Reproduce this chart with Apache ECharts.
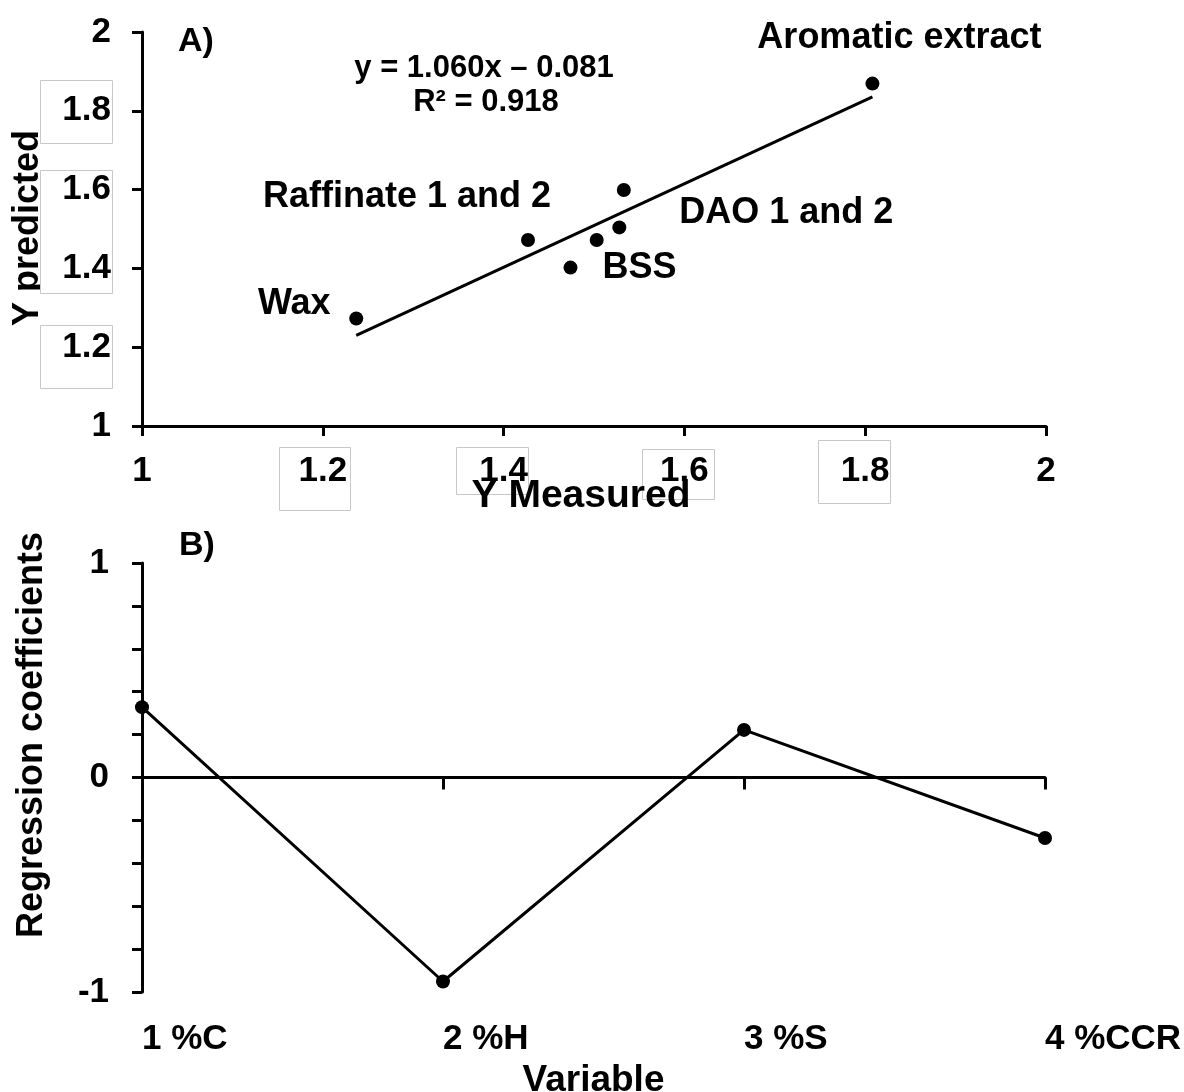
<!DOCTYPE html>
<html>
<head>
<meta charset="utf-8">
<script src="https://cdn.jsdelivr.net/npm/echarts@6/dist/echarts.min.js"></script>
<style>html,body{margin:0;padding:0;background:#fff}#c{width:1184px;height:1092px}</style>
</head>
<body>
<div id="c"></div>
<script>
// ---- Panel A data ----
const measured  = [1.237, 1.427, 1.474, 1.503, 1.528, 1.533, 1.808];
const predicted = [1.273, 1.472, 1.402, 1.472, 1.504, 1.599, 1.869];
const pointNames = ['Wax', 'Raffinate 1 and 2', 'BSS', '', 'DAO 1 and 2', '', 'Aromatic extract'];
const fitSlope = 1.060;
const fitIntercept = -0.081;
const fitR2 = 0.918;
const axisATicks = [1, 1.2, 1.4, 1.6, 1.8, 2];

// ---- Panel B data ----
const variables = ['1 %C', '2 %H', '3 %S', '4 %CCR'];
const coefficients = [0.328, -0.951, 0.222, -0.282];
const axisBLabels = [-1, 0, 1];

const FONT = "'Liberation Sans', Arial, sans-serif";
const chart = echarts.init(document.getElementById('c'), null, {renderer: 'canvas'});

// label placement relative to each point (centre of text from point centre)
const labelOffsets = {
  'Wax': [-62, -14],
  'Raffinate 1 and 2': [-121, -43],
  'BSS': [69, 0],
  'DAO 1 and 2': [167, -14],
  'Aromatic extract': [27, -46]
};

const scatterData = measured.map((x, i) => {
  const name = pointNames[i];
  const item = {value: [x, predicted[i]], name: name};
  if (name) {
    item.label = {show: true, position: 'inside', formatter: name, offset: labelOffsets[name],
      color: '#000', opacity: 1, fontSize: 36, fontWeight: 'bold', fontFamily: FONT};
  }
  return item;
});

const xMin = Math.min(...measured), xMax = Math.max(...measured);
const fitLine = [[xMin, fitSlope * xMin + fitIntercept], [xMax, fitSlope * xMax + fitIntercept]];

const axisLineStyle = {show: true, lineStyle: {color: '#000', width: 3}};
const tickStyle = {show: true, length: 10, lineStyle: {color: '#000', width: 3}};
const labelStyle = {color: '#000', fontSize: 35, fontWeight: 'bold', fontFamily: FONT};

const fmtEq = 'y = ' + fitSlope.toFixed(3) + 'x \u2013 ' + Math.abs(fitIntercept).toFixed(3);
const fmtR2 = 'R\u00b2 = ' + fitR2.toFixed(3);

const box = (x, y, w, h) => ({type: 'rect', z: 2, silent: true,
  shape: {x: x, y: y, width: w, height: h},
  style: {fill: '#fff', stroke: '#c8c8c8', lineWidth: 1}});

const option = {
  backgroundColor: '#fff',
  animation: false,
  grid: [
    {left: 142, top: 32, width: 904, height: 394, containLabel: false, outerBoundsMode: 'none'},
    {left: 142, top: 563, width: 903, height: 429, containLabel: false, outerBoundsMode: 'none'}
  ],
  xAxis: [
    {type: 'value', gridIndex: 0, min: axisATicks[0], max: axisATicks[axisATicks.length - 1], interval: 0.2, z: 5,
     axisLine: axisLineStyle, axisTick: tickStyle, splitLine: {show: false},
     axisLabel: Object.assign({margin: 28}, labelStyle),
     name: 'Y Measured', nameLocation: 'middle', nameGap: 51, nameMoveOverlap: false,
     nameTextStyle: {color: '#000', fontSize: 39, fontWeight: 'bold', fontFamily: FONT, padding: [0, 26, 0, 0]}},
    {type: 'category', gridIndex: 1, data: variables, boundaryGap: false, z: 5,
     axisLine: {show: true, onZero: true, lineStyle: {color: '#000', width: 3}},
     axisTick: {show: true, length: 12, alignWithLabel: true, lineStyle: {color: '#000', width: 3}},
     axisLabel: {show: false}, splitLine: {show: false}},
    {type: 'category', gridIndex: 1, data: variables, boundaryGap: false, position: 'bottom', z: 5,
     axisLine: {show: false, onZero: false}, axisTick: {show: false}, splitLine: {show: false},
     axisLabel: Object.assign({margin: 30, align: 'left', showMaxLabel: true, showMinLabel: true, interval: 0}, labelStyle),
     name: 'Variable', nameLocation: 'middle', nameGap: 70, nameMoveOverlap: false,
     nameTextStyle: {color: '#000', fontSize: 37, fontWeight: 'bold', fontFamily: FONT}}
  ],
  yAxis: [
    {type: 'value', gridIndex: 0, min: 1, max: 2, interval: 0.2, z: 5,
     axisLine: axisLineStyle, axisTick: tickStyle, splitLine: {show: false},
     axisLabel: Object.assign({margin: 31}, labelStyle)},
    {type: 'value', gridIndex: 1, min: axisBLabels[0], max: axisBLabels[axisBLabels.length - 1], interval: 0.2, z: 5,
     axisLine: axisLineStyle, axisTick: tickStyle, splitLine: {show: false},
     axisLabel: Object.assign({margin: 33, formatter: v => {
       const r = Math.round(v);
       return (Math.abs(v - r) < 1e-6 && axisBLabels.indexOf(r) >= 0) ? String(r) : '';
     }}, labelStyle)}
  ],
  graphic: [
    {type: 'text', z: 1, silent: true, x: 28, y: 228, rotation: Math.PI / 2,
     style: {text: 'Y predicted', fill: '#000', font: 'bold 36px ' + FONT, align: 'center', verticalAlign: 'middle'}},
    box(40.5, 80.5, 72, 63),
    box(40.5, 170.5, 72, 123),
    box(40.5, 325.5, 72, 63),
    box(279.5, 447.5, 71, 63),
    box(456.5, 447.5, 72, 47),
    box(642.5, 449.5, 72, 50),
    box(818.5, 440.5, 72, 63),
    {type: 'text', z: 1, silent: true, x: 32, y: 735, rotation: Math.PI / 2,
     style: {text: 'Regression coefficients', fill: '#000', font: 'bold 36px ' + FONT, align: 'center', verticalAlign: 'middle'}},
    {type: 'text', z: 3, silent: true, x: 196, y: 42,
     style: {text: 'A)', fill: '#000', font: 'bold 34px ' + FONT, align: 'center', verticalAlign: 'middle'}},
    {type: 'text', z: 3, silent: true, x: 197, y: 546,
     style: {text: 'B)', fill: '#000', font: 'bold 34px ' + FONT, align: 'center', verticalAlign: 'middle'}},
    {type: 'text', z: 3, silent: true, x: 484, y: 68,
     style: {text: fmtEq, fill: '#000', font: 'bold 31px ' + FONT, align: 'center', verticalAlign: 'middle'}},
    {type: 'text', z: 3, silent: true, x: 486, y: 102,
     style: {text: fmtR2, fill: '#000', font: 'bold 31px ' + FONT, align: 'center', verticalAlign: 'middle'}}
  ],
  series: [
    {type: 'line', xAxisIndex: 0, yAxisIndex: 0, data: fitLine, showSymbol: false, symbol: 'none',
     lineStyle: {color: '#000', width: 3}, z: 3},
    {type: 'scatter', xAxisIndex: 0, yAxisIndex: 0, data: scatterData, symbol: 'circle', symbolSize: 14,
     itemStyle: {color: '#000', opacity: 1}, z: 4},
    {type: 'line', xAxisIndex: 1, yAxisIndex: 1, data: coefficients, symbol: 'circle', symbolSize: 14,
     showSymbol: true, itemStyle: {color: '#000'}, lineStyle: {color: '#000', width: 3}, z: 4}
  ]
};
chart.setOption(option);
</script>
</body>
</html>
